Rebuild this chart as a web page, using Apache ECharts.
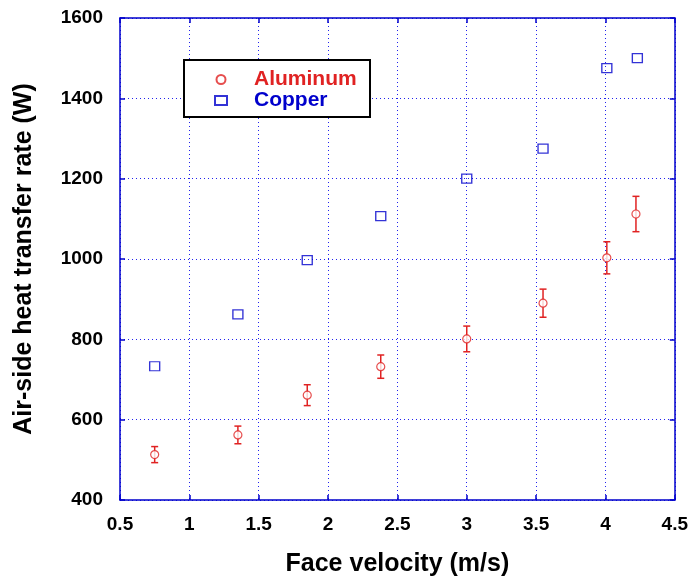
<!DOCTYPE html>
<html>
<head>
<meta charset="utf-8">
<script src="https://cdn.jsdelivr.net/npm/echarts@6/dist/echarts.min.js"></script>
<style>html,body{margin:0;padding:0;background:#fff;}#c{width:691px;height:582px;}</style>
</head>
<body>
<div id="c"></div>
<script>
const alX = [0.75, 1.35, 1.85, 2.38, 3.0, 3.55, 4.01, 4.22];
const alY = [513, 562, 661, 732, 801, 890, 1003, 1112];
const alErr = [20, 22, 26, 29, 32, 35, 40, 44];
const cuX = [0.75, 1.35, 1.85, 2.38, 3.0, 3.55, 4.01, 4.23];
const cuY = [733, 862, 997, 1107, 1200, 1275, 1475, 1500];
const xTicks = [0.5, 1, 1.5, 2, 2.5, 3, 3.5, 4, 4.5];
const yTicks = [400, 600, 800, 1000, 1200, 1400, 1600];

const RED = '#e02222', BLUE = '#0000cc';
const chart = echarts.init(document.getElementById('c'), null, {renderer: 'canvas'});
const axisCommon = {
  axisLine: {show: true, lineStyle: {color: BLUE, width: 1.5}},
  axisTick: {show: true, inside: true, length: 5, lineStyle: {color: BLUE, width: 1.5}},
};
const font = '"Liberation Sans", Arial, sans-serif';
chart.setOption({
  animation: false,
  grid: {left: 120, right: 16, top: 18, bottom: 77, show: false},
  xAxis: [
    Object.assign({type: 'value', min: xTicks[0], max: xTicks[xTicks.length-1], interval: 0.5,
      position: 'bottom',
      name: 'Face velocity (m/s)', nameLocation: 'middle', nameGap: 52,
      nameTextStyle: {fontFamily: font, fontWeight: 'bold', fontSize: 25, color: '#000'},
      axisLabel: {fontFamily: font, fontWeight: 'bold', fontSize: 19, color: '#000', margin: 15,
        formatter: v => String(v)},
      splitLine: {show: true, lineStyle: {color: '#2222ee', type: [1, 3], width: 1}}}, axisCommon),
    Object.assign({type: 'value', min: xTicks[0], max: xTicks[xTicks.length-1], interval: 0.5,
      position: 'top', axisLabel: {show: false}, splitLine: {show: false}}, axisCommon)
  ],
  yAxis: [
    Object.assign({type: 'value', min: yTicks[0], max: yTicks[yTicks.length-1], interval: 200,
      position: 'left',
      name: 'Air-side heat transfer rate (W)', nameLocation: 'middle', nameGap: 83,
      nameTextStyle: {fontFamily: font, fontWeight: 'bold', fontSize: 25, color: '#000'},
      axisLabel: {fontFamily: font, fontWeight: 'bold', fontSize: 19, color: '#000', margin: 17,
        formatter: v => String(v)},
      splitLine: {show: true, lineStyle: {color: '#2222ee', type: [1, 3], width: 1}}}, axisCommon),
    Object.assign({type: 'value', min: yTicks[0], max: yTicks[yTicks.length-1], interval: 200,
      position: 'right', axisLabel: {show: false}, splitLine: {show: false}}, axisCommon)
  ],
  graphic: [{
    type: 'rect', left: 183, top: 59, z: 100,
    shape: {width: 186, height: 57},
    style: {fill: '#fff', stroke: '#000', lineWidth: 2}
  }],
  legend: {
    orient: 'vertical', left: 209, top: 64, z: 101,
    itemGap: 0, itemWidth: 12, itemHeight: 9,
    data: [
      {name: 'Aluminum', textStyle: {color: RED}},
      {name: 'Copper', textStyle: {color: BLUE}}
    ],
    textStyle: {fontFamily: font, fontWeight: 'bold', fontSize: 21, lineHeight: 21, padding: [0, 0, 0, 22]}
  },
  series: [
    {
      name: 'AlErr', type: 'custom', xAxisIndex: 0, yAxisIndex: 0,
      data: alX.map((x, i) => [x, alY[i] - alErr[i], alY[i] + alErr[i]]),
      renderItem: function (params, api) {
        const lo = api.coord([api.value(0), api.value(1)]);
        const hi = api.coord([api.value(0), api.value(2)]);
        const w = 3.5;
        const st = {stroke: RED, lineWidth: 1.5, fill: 'none'};
        return {type: 'group', children: [
          {type: 'line', shape: {x1: lo[0], y1: lo[1], x2: hi[0], y2: hi[1]}, style: st},
          {type: 'line', shape: {x1: lo[0]-w, y1: lo[1], x2: lo[0]+w, y2: lo[1]}, style: st},
          {type: 'line', shape: {x1: hi[0]-w, y1: hi[1], x2: hi[0]+w, y2: hi[1]}, style: st}
        ]};
      },
      z: 3
    },
    {
      name: 'Aluminum', type: 'scatter', symbol: 'circle', symbolSize: 8,
      itemStyle: {color: '#fff', borderColor: RED, borderWidth: 1.2},
      data: alX.map((x, i) => [x, alY[i]]), z: 4
    },
    {
      name: 'Copper', type: 'scatter', symbol: 'rect', symbolSize: [10, 9],
      itemStyle: {color: 'rgba(255,255,255,0)', borderColor: BLUE, borderWidth: 1.3},
      data: cuX.map((x, i) => [x, cuY[i]]), z: 4
    }
  ]
});
</script>
</body>
</html>
